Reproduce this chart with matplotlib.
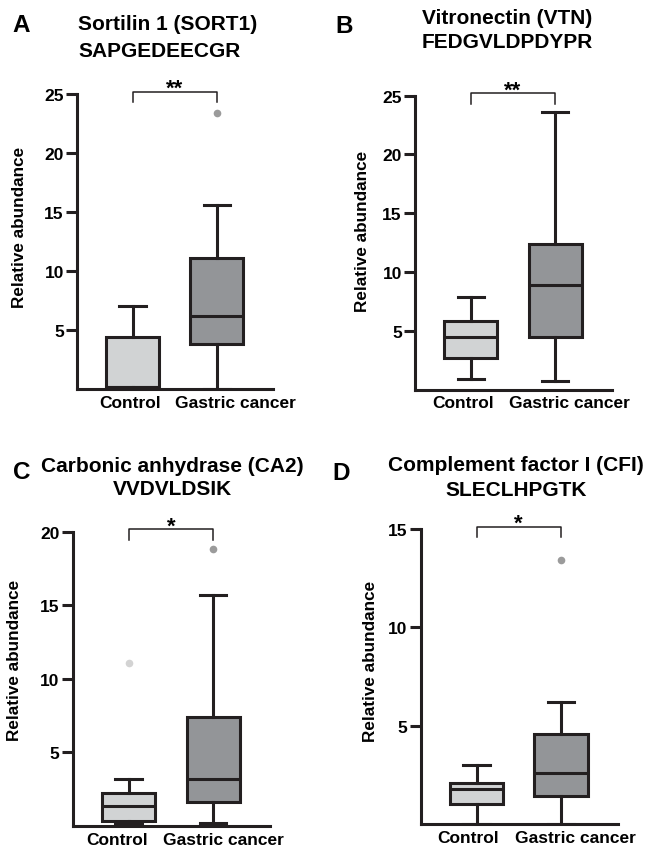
import numpy as np
import matplotlib
matplotlib.use("Agg")
import matplotlib.pyplot as plt
import matplotlib.transforms as mtransforms

plt.rcParams['font.family'] = ['Liberation Sans', 'DejaVu Sans']
plt.rcParams['font.weight'] = 'bold'

# data
panels = ['A', 'B', 'C', 'D']
proteins = ['Sortilin 1 (SORT1)', 'Vitronectin (VTN)',
            'Carbonic anhydrase (CA2)', 'Complement factor I (CFI)']
peptides = ['SAPGEDEECGR', 'FEDGVLDPDYPR', 'VVDVLDSIK', 'SLECLHPGTK']
groups = ['Control', 'Gastric cancer']
signif = ['**', '**', '*', '*']
y_max = [25, 25, 20, 15]
y_ticks = [[5, 10, 15, 20, 25], [5, 10, 15, 20, 25], [5, 10, 15, 20], [5, 10, 15]]

# box summaries: low whisker, q1, median, q3, high whisker
control_low = [0.0, 0.9, 0.1, 0.0]
control_q1 = [0.15, 2.7, 0.3, 1.0]
control_med = [0.15, 4.5, 1.35, 1.8]
control_q3 = [4.4, 5.8, 2.2, 2.1]
control_high = [7.0, 7.9, 3.15, 3.0]
control_fliers = [[], [], [11.1], []]

gastric_low = [0.0, 0.7, 0.2, 0.0]
gastric_q1 = [3.8, 4.5, 1.65, 1.4]
gastric_med = [6.2, 8.9, 3.2, 2.6]
gastric_q3 = [11.1, 12.4, 7.4, 4.6]
gastric_high = [15.6, 23.6, 15.7, 6.2]
gastric_fliers = [[23.4], [], [18.8], [13.4]]

box_colors = ['#d1d3d4', '#939598']
flier_colors = ['#d3d3d3', '#9b9b9b']

# layout (pixels in a 650x853 figure)
W, H = 650, 853
ax_px = [(77, 95, 273, 390), (415, 96.7, 612, 390.5),
         (72.7, 532.7, 270, 826.8), (420.7, 530, 617.7, 825)]
letter_px = [(12, 32), (335, 33), (13, 479), (332, 480)]
title_px = [(78, 30.5, 56.7, 'left'), (507, 24.5, 48.3, 'center'),
            (172, 471.7, 495, 'center'), (516, 470.7, 496, 'center')]
label_x = [-0.255, -0.228, -0.257, -0.217]
label_y = [0.55, 0.54, 0.567, 0.556]
xlab_shift = [(-2, 19), (-8, 14), (-12, 10), (-8, 14)]

fig = plt.figure(figsize=(W / 100, H / 100), dpi=100)
lw = 2.2
ink = '#231f20'

for i in range(4):
    x0, y0, x1, y1 = ax_px[i]
    ax = fig.add_axes([x0 / W, 1 - y1 / H, (x1 - x0) / W, (y1 - y0) / H])

    stats = [
        dict(whislo=control_low[i], q1=control_q1[i], med=control_med[i],
             q3=control_q3[i], whishi=control_high[i], fliers=control_fliers[i]),
        dict(whislo=gastric_low[i], q1=gastric_q1[i], med=gastric_med[i],
             q3=gastric_q3[i], whishi=gastric_high[i], fliers=gastric_fliers[i]),
    ]
    bp = ax.bxp(stats, positions=[1, 2], widths=0.63, capwidths=0.31,
                patch_artist=True, showfliers=True,
                boxprops=dict(linewidth=lw, edgecolor=ink),
                medianprops=dict(linewidth=lw, color=ink),
                whiskerprops=dict(linewidth=lw, color=ink),
                capprops=dict(linewidth=lw, color=ink),
                flierprops=dict(marker='o', markersize=5.5, markeredgewidth=0))
    for j, patch in enumerate(bp['boxes']):
        patch.set_facecolor(box_colors[j])
        bp['fliers'][j].set_markerfacecolor(flier_colors[j])
        bp['fliers'][j].set_clip_on(False)

    ax.set_xlim(0.34, 2.67)
    ax.set_ylim(0, y_max[i])
    ax.set_yticks(y_ticks[i])
    ax.set_xticks([1, 2], labels=['', ''])
    ax.tick_params(axis='x', length=0)
    ax.tick_params(axis='y', length=8, width=lw, pad=1.5, labelsize=12.5, color=ink)
    for lab in ax.get_yticklabels():
        lab.set_fontweight('bold')

    # group labels sit a little off the box centres in the reference
    for pos, name, dx in zip([1, 2], groups, xlab_shift[i]):
        off = mtransforms.ScaledTranslation(dx / 100, -6 / 100, fig.dpi_scale_trans)
        ax.text(pos, 0, name, transform=ax.get_xaxis_transform() + off,
                ha='center', va='top', fontsize=12.5, fontweight='bold')

    for s in ['top', 'right']:
        ax.spines[s].set_visible(False)
    for s in ['left', 'bottom']:
        ax.spines[s].set_linewidth(lw)
        ax.spines[s].set_color(ink)

    ax.set_ylabel('Relative abundance', fontsize=12.3, fontweight='bold')
    ax.yaxis.set_label_coords(label_x[i], label_y[i])

    # significance bracket
    tr = ax.get_xaxis_transform()
    ax.plot([1, 1, 2, 2], [0.972, 1.008, 1.008, 0.972], color=ink,
            linewidth=1.1, transform=tr, clip_on=False)
    ax.text(1.5, 1.0, signif[i], transform=tr, ha='center', va='baseline',
            fontsize=16, fontweight='bold')

    # panel letter and titles
    lx, ly = letter_px[i]
    fig.text(lx / W, 1 - ly / H, panels[i], fontsize=17.5, fontweight='bold',
             ha='left', va='baseline')
    tx, b1, b2, ha = title_px[i]
    fig.text(tx / W, 1 - b1 / H, proteins[i], fontsize=15, fontweight='bold',
             ha=ha, va='baseline')
    fig.text(tx / W, 1 - b2 / H, peptides[i], fontsize=15, fontweight='bold',
             ha=ha, va='baseline')

fig.savefig('out.png', dpi=100)
